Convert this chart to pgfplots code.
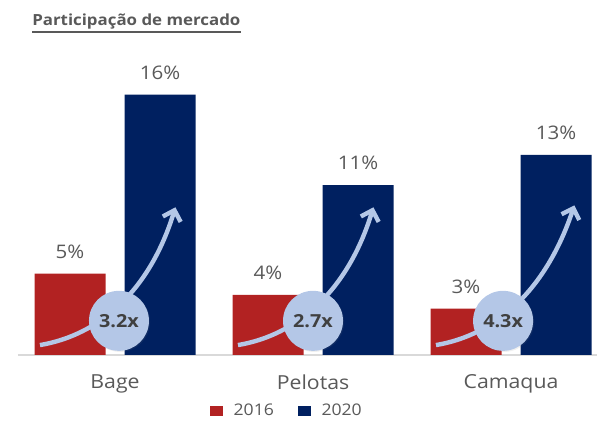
\documentclass[border=0pt]{standalone}
\usepackage{fontspec}
\setmainfont{Open Sans}[FakeStretch=1.1]
\usepackage{pgfplots}
\pgfplotsset{compat=1.18}
\usetikzlibrary{arrows.meta,shadows}
\definecolor{c2016}{RGB}{178,34,34}
\definecolor{c2020}{RGB}{0,32,96}
\definecolor{arrowblue}{RGB}{180,199,231}
\definecolor{textgray}{RGB}{89,89,89}
\definecolor{circtext}{RGB}{64,64,64}

\begin{document}
\begin{tikzpicture}
\begin{axis}[at={(0,0)}, anchor=south west, scale only axis,
  x=148.5pt, y=12.2pt, xmin=-0.49, xmax=2.434, ymin=0, ymax=18,
  ybar=14.25pt, bar width=53.25pt, clip=false,
  axis y line=none, axis x line*=bottom,
  x axis line style={draw=black!15, line width=0.8pt},
  xtick={0,1,2}, xticklabels={Bage,Pelotas,Camaqua}, major tick length=0pt,
  xticklabel style={font=\fontsize{14.5}{16}\selectfont, text=textgray, yshift=-11pt},
  nodes near coords, point meta=explicit symbolic,
  nodes near coords style={font=\fontsize{14}{16}\selectfont, text=textgray, anchor=south, yshift=8pt},
  legend style={at={(0.465,-0.191)}, anchor=center, draw=none, legend columns=2,
    font=\fontsize{12}{14}\selectfont, text=textgray,
    /tikz/every odd column/.append style={column sep=6pt},
    /tikz/every even column/.append style={column sep=16pt}},
  legend image code/.code={\fill[#1] (0pt,-3.75pt) rectangle (9.75pt,3.75pt);}]
\addplot[fill=c2016, draw=none] coordinates {(0,5.0)[5\%] (1,3.7)[4\%] (2,2.85)[3\%]};
\addplot[fill=c2020, draw=none] coordinates {(0,16.0)[16\%] (1,10.45)[11\%] (2,12.3)[13\%]};
\legend{2016,2020}

% growth arrows and multipliers
\draw[arrowblue, line width=3.3pt, -{Straight Barb[length=7pt,width=14pt]}]
  (axis cs:-0.379,0.61) .. controls (axis cs:-0.076,1.23) and (axis cs:0.177,3.99) .. (axis cs:0.305,9.08);
\draw[arrowblue, line width=3.3pt, -{Straight Barb[length=7pt,width=14pt]}]
  (axis cs:0.621,0.61) .. controls (axis cs:0.924,1.23) and (axis cs:1.177,3.99) .. (axis cs:1.305,9.08);
\draw[arrowblue, line width=3.3pt, -{Straight Barb[length=7pt,width=14pt]}]
  (axis cs:1.621,0.61) .. controls (axis cs:1.924,1.23) and (axis cs:2.177,3.99) .. (axis cs:2.32,9.2);
\node[circle, fill=arrowblue, minimum size=45pt, inner sep=0pt,
  drop shadow={opacity=0.12, shadow xshift=0.8pt, shadow yshift=-0.8pt},
  font=\bfseries\fontsize{13.5}{15}\selectfont, text=circtext] at (axis cs:0.02,2.1) {3.2x};
\node[circle, fill=arrowblue, minimum size=45pt, inner sep=0pt,
  drop shadow={opacity=0.12, shadow xshift=0.8pt, shadow yshift=-0.8pt},
  font=\bfseries\fontsize{13.5}{15}\selectfont, text=circtext] at (axis cs:1.0,2.1) {2.7x};
\node[circle, fill=arrowblue, minimum size=45pt, inner sep=0pt,
  drop shadow={opacity=0.12, shadow xshift=0.8pt, shadow yshift=-0.8pt},
  font=\bfseries\fontsize{13.5}{15}\selectfont, text=circtext] at (axis cs:1.96,2.1) {4.3x};
\end{axis}
\node[anchor=base west, inner sep=0pt, font=\bfseries\fontsize{11.5}{14}\selectfont, text=textgray]
  (title) at (10.5pt,247pt) {Participação de mercado};
\draw[textgray, line width=1.5pt] ([yshift=-1.5pt]title.south west) -- ([yshift=-1.5pt]title.south east);
\pgfresetboundingbox
\path[use as bounding box] (-13.5pt,-54pt) rectangle (434.25pt,266.25pt);
\end{tikzpicture}
\end{document}
